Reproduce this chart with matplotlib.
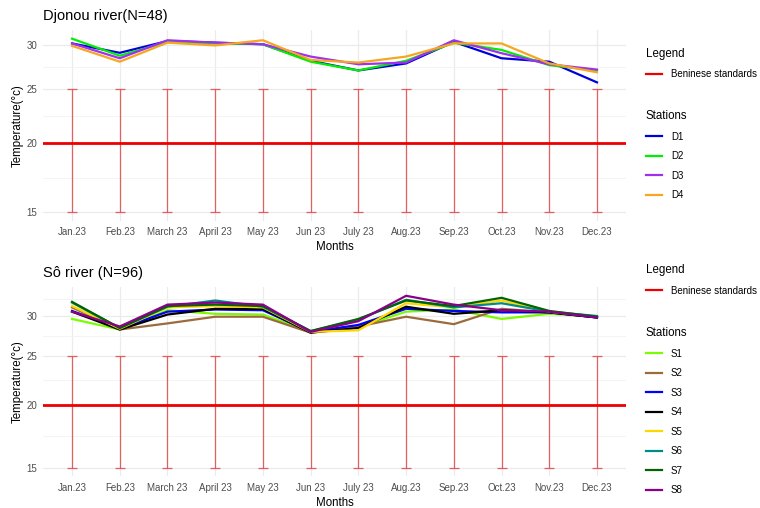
import numpy as np
import matplotlib
matplotlib.use("Agg")
import matplotlib.pyplot as plt
from matplotlib.ticker import FixedLocator, NullFormatter, FixedFormatter
from matplotlib.lines import Line2D

plt.rcParams['font.family'] = ['Liberation Sans', 'DejaVu Sans']

months = ["Jan.23", "Feb.23", "March 23", "April 23", "May 23", "Jun 23",
          "July 23", "Aug.23", "Sep.23", "Oct.23", "Nov.23", "Dec.23"]

# Djonou river stations (mean temperature, °C)
D1 = [30.2, 29.05, 30.5, 30.3, 30.1, 28.1, 27.0, 27.8, 30.4, 28.4, 28.0, 25.7]
D2 = [30.8, 28.7, 30.4, 30.2, 30.1, 28.0, 27.0, 28.1, 30.3, 29.4, 27.6, 27.0]
D3 = [30.2, 28.4, 30.6, 30.3, 30.1, 28.6, 27.7, 27.9, 30.6, 29.0, 27.7, 27.1]
D4 = [29.9, 28.0, 30.3, 29.95, 30.6, 28.2, 27.9, 28.6, 30.2, 30.2, 27.8, 26.8]

# Sô river stations
S1 = [29.6, 28.2, 30.8, 30.3, 30.2, 27.9, 28.5, 30.6, 30.9, 29.6, 30.3, 29.9]
S2 = [31.2, 28.2, 29.0, 29.9, 29.9, 27.8, 28.6, 29.9, 28.9, 31.0, 30.5, 29.8]
S3 = [30.7, 28.3, 30.6, 30.9, 30.8, 27.9, 28.8, 31.0, 30.7, 30.5, 30.5, 29.8]
S4 = [30.6, 28.2, 30.2, 31.0, 31.0, 27.8, 28.4, 31.3, 30.3, 30.8, 30.5, 29.8]
S5 = [31.4, 28.3, 31.2, 31.4, 31.2, 27.9, 28.1, 31.8, 31.2, 32.2, 30.6, 29.9]
S6 = [31.9, 28.4, 31.3, 32.2, 31.3, 28.0, 29.5, 32.3, 31.2, 31.8, 30.6, 30.0]
S7 = [32.0, 28.4, 31.4, 31.6, 31.4, 28.0, 29.6, 32.2, 31.4, 32.6, 30.7, 29.9]
S8 = [30.6, 28.6, 31.6, 31.9, 31.6, 27.9, 29.3, 32.9, 31.6, 30.8, 30.6, 29.8]

# Beninese standard: reference 20 °C, acceptable range 15-25 °C
standard = 20
range_low = [15] * 12
range_high = [25] * 12

djonou = {"D1": (D1, "#0000DD"), "D2": (D2, "#00EE00"),
          "D3": (D3, "#A030EE"), "D4": (D4, "#F5A623")}
so = {"S1": (S1, "#7CFC00"), "S2": (S2, "#9C6B3C"), "S3": (S3, "#0000FF"),
      "S4": (S4, "#000000"), "S5": (S5, "#FFD700"), "S6": (S6, "#008B8B"),
      "S7": (S7, "#006400"), "S8": (S8, "#8B008B")}

W, H = 760, 508
fig = plt.figure(figsize=(W / 100, H / 100), dpi=100)

yticks = [15, 20, 25, 30]
ext = [10, 15, 20, 25, 30, 35]
yminor = [np.sqrt(a * b) for a, b in zip(ext[:-1], ext[1:])]


def panel(rect, title, stations, legend_tops):
    ax = fig.add_axes(rect)
    x = np.arange(len(months))
    low = np.array(range_low)
    high = np.array(range_high)
    ax.errorbar(x, low, yerr=[np.zeros_like(low), high - low], fmt='none',
                ecolor='#E04848', elinewidth=0.9, capsize=3.6, capthick=0.9,
                alpha=0.85, zorder=2)
    ax.axhline(standard, color='#EE0000', lw=2.0, zorder=3)
    handles = []
    for name, (vals, col) in stations.items():
        h, = ax.plot(x, vals, color=col, lw=1.6, zorder=4, label=name)
        handles.append(h)

    ax.set_yscale('log')
    ax.margins(x=0.6 / 11, y=0.05)
    ax.yaxis.set_major_locator(FixedLocator(yticks))
    ax.yaxis.set_major_formatter(FixedFormatter([str(t) for t in yticks]))
    ax.yaxis.set_minor_locator(FixedLocator(yminor))
    ax.yaxis.set_minor_formatter(NullFormatter())
    ax.set_xticks(x)
    ax.set_xticklabels(months)
    ax.tick_params(which='both', length=0, labelsize=7, colors='#4D4D4D',
                   pad=4.5)
    ax.grid(which='major', color='#EBEBEB', lw=0.9)
    ax.grid(which='minor', axis='y', color='#F3F3F3', lw=0.6)
    ax.set_axisbelow(True)
    for s in ax.spines.values():
        s.set_visible(False)
    ax.set_xlabel("Months", fontsize=8.3, labelpad=3)
    ax.set_ylabel("Temperature(°c)", fontsize=8.3, labelpad=2)
    ax.set_title(title, loc='left', fontsize=10.5, pad=7)

    common = dict(loc='upper left', bbox_transform=fig.transFigure,
                  frameon=False, borderpad=0, borderaxespad=0,
                  handlelength=1.65, handletextpad=0.9, labelspacing=0.98,
                  fontsize=7, title_fontsize=8.3, alignment='left')
    leg1 = ax.legend([Line2D([], [], color='#EE0000', lw=1.6)],
                     ["Beninese standards"], title="Legend",
                     bbox_to_anchor=(646 / W, 1 - legend_tops[0] / H), **common)
    ax.add_artist(leg1)
    ax.legend(handles=handles, title="Stations",
              bbox_to_anchor=(646 / W, 1 - legend_tops[1] / H), **common)
    return ax


panel([43.4 / W, 1 - 221 / H, (625.6 - 43.4) / W, (221 - 30) / H],
      "Djonou river(N=48)", djonou, (47.5, 110))
panel([43.4 / W, 1 - 476.3 / H, (625.6 - 43.4) / W, (476.3 - 287.2) / H],
      "Sô river (N=96)", so, (264, 327))

fig.savefig("out.png", dpi=100, facecolor='white')
